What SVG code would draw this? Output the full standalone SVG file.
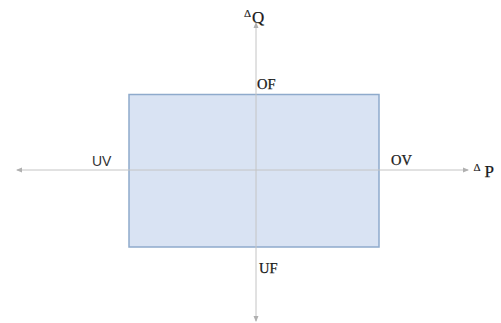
<svg xmlns="http://www.w3.org/2000/svg" width="501" height="323" viewBox="0 0 501 323">
<style>
text{font-family:"Liberation Serif",serif;fill:#1a1a1a;stroke:#1a1a1a;stroke-width:0.25}
.lbl{font-size:14.5px}
.big{font-size:17px}
.d{font-size:11px;stroke-width:0.15}
.sans{font-family:"Liberation Sans",sans-serif;font-size:14px;fill:#333;stroke:none}
.ax{stroke:#c4c4c4;stroke-width:1;fill:none}
</style>
<defs>
<marker id="ah" viewBox="0 0 6 6" refX="5" refY="3" markerWidth="6" markerHeight="6" orient="auto" markerUnits="userSpaceOnUse">
<path d="M0,0.5 L6,3 L0,5.5 z" fill="#b0b0b0"/>
</marker>
</defs>
<g id="region">
<rect x="129" y="94.5" width="250" height="152.5" fill="#d9e3f3" stroke="#8eaacc" stroke-width="1.5"/>
</g>
<g id="connectors">
<line class="ax" x1="256" y1="170" x2="256" y2="23" marker-end="url(#ah)"/>
<line class="ax" x1="256" y1="170" x2="256" y2="321" marker-end="url(#ah)"/>
<line class="ax" x1="256" y1="170" x2="468" y2="170" marker-end="url(#ah)"/>
<line class="ax" x1="256" y1="170" x2="17" y2="170" marker-end="url(#ah)"/>
</g>
<g id="axis-q"><text class="d" x="244" y="17">Δ</text><text class="big" x="252" y="23">Q</text></g>
<g id="axis-p"><text class="d" x="473.5" y="171">Δ</text><text class="big" x="484.5" y="177">P</text></g>
<g id="OF"><text class="lbl" x="257" y="89">OF</text></g>
<g id="UF"><text class="lbl" x="259" y="273">UF</text></g>
<g id="UV"><text class="sans" x="92" y="166">UV</text></g>
<g id="OV"><text class="lbl" x="391" y="165">OV</text></g>
</svg>
